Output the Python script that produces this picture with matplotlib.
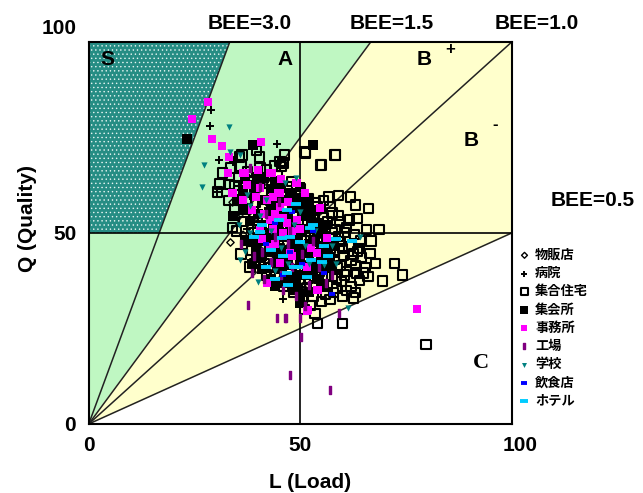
import matplotlib.pyplot as plt
import matplotlib.transforms as mtransforms
import numpy as np

plt.rcParams['font.family'] = ['Liberation Sans', 'Noto Sans CJK JP', 'DejaVu Sans']
plt.rcParams['hatch.linewidth'] = 0.5

# BEE boundary lines
bee_values = [3.0, 1.5, 1.0, 0.5]
bee_labels = ["BEE=3.0", "BEE=1.5", "BEE=1.0", "BEE=0.5"]

# building types (legend order)
type_names = ["物販店", "病院", "集合住宅", "集会所", "事務所", "工場", "学校", "飲食店", "ホテル"]

# (L, Q) points
retail = [(39.5, 52.5), (41.5, 46.5), (36.5, 49.5), (44.5, 55.5), (47.5, 43.5), (50.5, 36.0),
          (53.5, 46.0), (34.0, 58.0), (43.0, 63.0), (56.0, 50.0), (38.0, 55.5), (45.0, 37.5),
          (33.5, 47.5)]

hospital = [(28.8, 82.2), (28.6, 78.0), (44.4, 73.3), (30.7, 69.1), (34.0, 69.1), (45.9, 32.7),
            (30.3, 60.7), (34.0, 68.6), (36.0, 63.5), (38.5, 59.5), (41.0, 53.0), (46.0, 48.0),
            (50.0, 50.0), (44.5, 43.5), (52.0, 40.0), (37.5, 51.0), (48.0, 60.0)]

apartment = [(39.7, 71.5), (36.2, 70.4), (40.4, 69.9), (51.3, 70.9), (46.3, 70.4), (58.4, 70.4),
             (54.8, 67.8), (45.2, 68.6), (45.6, 67.3), (31.7, 65.7), (31.0, 62.8), (33.3, 62.6),
             (30.5, 60.7), (56.7, 59.4), (59.1, 59.9), (61.9, 59.4), (63.1, 57.3), (66.2, 56.3),
             (59.3, 52.9), (61.7, 53.4), (63.4, 53.7), (65.7, 51.0), (68.6, 51.0), (64.3, 47.9),
             (66.7, 47.9), (72.3, 42.1), (74.2, 39.0), (69.5, 37.4), (54.1, 26.2), (60.0, 26.4),
             (57.0, 32.5), (38.1, 41.1), (39.2, 41.9), (79.7, 20.9), (35.7, 69.9), (51.1, 71.2),
             (45.9, 68.3), (55.1, 67.8), (58.2, 70.4),
             (55.5, 54.0), (57.5, 55.2), (59.0, 54.5), (56.0, 51.5), (58.2, 50.8), (60.5, 50.2),
             (62.8, 49.6), (57.0, 48.5), (59.5, 47.8), (61.5, 46.5), (63.5, 45.2), (58.0, 45.0),
             (60.2, 44.0), (62.0, 42.8), (64.5, 43.5), (66.5, 44.6), (56.5, 42.5), (58.8, 41.0),
             (61.0, 40.0), (63.2, 39.5), (65.5, 41.0), (67.8, 42.0), (57.5, 38.5), (59.8, 37.2),
             (62.0, 36.0), (64.0, 37.5), (66.0, 38.5), (55.5, 36.0), (57.8, 34.5), (60.0, 33.5),
             (62.5, 33.0), (54.5, 40.0), (55.0, 46.5), (53.5, 50.0), (54.0, 57.0), (52.0, 59.0),
             (50.0, 61.5), (48.0, 63.5), (44.5, 65.0), (42.0, 66.5), (40.0, 64.0), (37.5, 66.0),
             (35.5, 64.5), (38.0, 61.0), (36.0, 58.5), (34.5, 56.0), (36.5, 53.0), (35.0, 50.5),
             (37.0, 48.0), (38.5, 45.5), (40.5, 43.5), (42.5, 41.0), (44.0, 38.5), (46.0, 36.0),
             (48.5, 34.5), (50.5, 33.0), (52.5, 31.0), (53.5, 29.0), (47.5, 38.0), (49.5, 40.5),
             (51.5, 42.5), (53.0, 44.5), (45.0, 43.0), (43.5, 46.0), (41.5, 48.5), (40.0, 51.0),
             (39.0, 54.0), (41.0, 56.5), (43.0, 58.5), (45.5, 60.0), (47.0, 57.0), (49.0, 55.0),
             (51.0, 53.0), (46.5, 51.5), (44.5, 54.0), (42.5, 52.0), (48.5, 48.5), (50.5, 46.5),
             (52.5, 48.0), (47.0, 45.0), (44.0, 50.0), (49.5, 51.0), (46.0, 47.5), (52.0, 38.0),
             (50.0, 37.0), (48.0, 42.0), (55.0, 32.0), (41.0, 60.5), (39.5, 58.0), (37.5, 56.5),
             (39.0, 50.0), (40.5, 47.0), (41.5, 42.0), (42.0, 39.0), (43.0, 55.0), (43.5, 49.0),
             (44.0, 61.0), (45.0, 46.0), (45.5, 41.0), (46.0, 56.5), (46.5, 53.5), (47.0, 49.5),
             (47.5, 40.5), (48.0, 37.0), (48.5, 58.5), (49.0, 45.0), (49.5, 53.0), (50.0, 39.5),
             (50.5, 55.5), (51.0, 48.0), (51.5, 35.5), (52.0, 50.5), (52.5, 41.5), (53.0, 53.5),
             (53.5, 38.5), (54.0, 43.0), (54.5, 48.5), (55.0, 51.0), (55.5, 44.5), (56.0, 39.0),
             (56.5, 53.0), (57.0, 46.0), (57.5, 50.0), (58.0, 43.0), (58.5, 38.0), (59.0, 49.0),
             (60.0, 46.0), (61.0, 51.5), (59.5, 41.5), (60.5, 39.0), (63.0, 41.5), (64.0, 46.0),
             (62.5, 44.5), (65.0, 39.5), (61.0, 35.0), (63.0, 34.5), (58.5, 35.5), (56.0, 34.0),
             (53.0, 33.5), (51.0, 30.0), (36.0, 44.5), (34.0, 51.5), (33.0, 58.5), (35.5, 61.0),
             (38.0, 63.5), (42.5, 63.0), (47.0, 62.0), (50.5, 59.0), (53.5, 58.0), (55.5, 58.5),
             (57.0, 57.0), (44.0, 67.5), (40.5, 67.0), (36.0, 67.5), (33.5, 67.0), (34.5, 62.5)]

hall = [(23.2, 74.6), (38.8, 73.0), (53.0, 73.0), (49.9, 31.7), (39.7, 64.7), (51.5, 58.6),
        (42.5, 55.5), (44.5, 57.5), (46.5, 55.0), (48.5, 57.0), (43.5, 52.5), (45.5, 50.0),
        (47.5, 52.5), (49.5, 49.5), (51.5, 51.0), (42.0, 48.0), (44.0, 45.5), (46.0, 43.0),
        (48.0, 45.5), (50.0, 43.0), (52.0, 45.0), (53.5, 47.5), (45.0, 40.5), (47.0, 38.5),
        (49.0, 36.5), (51.0, 39.0), (53.0, 41.5), (55.0, 44.0), (41.0, 51.5), (39.5, 47.0),
        (52.5, 55.0), (54.0, 52.5), (50.5, 58.5), (47.5, 60.5), (43.0, 61.5), (39.0, 62.5),
        (56.0, 48.0), (57.0, 43.5), (54.5, 38.0), (50.0, 34.0), (44.0, 36.0), (38.5, 42.0),
        (41.0, 44.0), (36.5, 61.0), (34.0, 54.5),
        (44.0, 47.5), (46.0, 45.5), (48.0, 47.5), (50.0, 45.5), (52.0, 47.0), (45.0, 52.0),
        (47.0, 54.5), (49.0, 52.0), (51.0, 54.5), (43.0, 50.0), (42.5, 45.0), (44.5, 42.5),
        (47.0, 41.5), (49.0, 39.0), (51.5, 41.0), (53.0, 39.5), (55.5, 41.0), (56.5, 45.5),
        (54.5, 50.0), (52.5, 52.5), (48.5, 59.0), (45.5, 62.0), (41.0, 58.5), (40.0, 55.0),
        (38.0, 53.0), (37.5, 48.0), (39.5, 44.5), (41.0, 40.5), (43.0, 38.0), (46.0, 37.0),
        (48.5, 35.0), (52.0, 34.5), (55.0, 36.0), (57.5, 41.0), (58.0, 46.5), (56.0, 52.0),
        (53.5, 56.0), (50.0, 56.5), (46.0, 58.5), (43.5, 57.0), (39.0, 60.0), (36.5, 56.0),
        (35.0, 59.0), (37.0, 64.0), (41.5, 64.5), (44.0, 63.5), (50.0, 62.0), (52.0, 57.0),
        (46.5, 50.0), (50.5, 50.5)]

office = [(28.1, 84.3), (24.4, 79.8), (29.1, 74.6), (31.4, 72.8), (40.7, 73.8), (33.1, 69.9),
          (32.9, 65.7), (36.4, 65.7), (34.0, 60.5), (42.1, 36.9), (54.1, 35.1), (51.5, 29.6),
          (77.5, 30.1), (48.9, 63.1), (43.3, 65.7), (36.4, 58.6), (40.4, 61.8), (44.7, 60.5),
          (49.2, 63.1), (42.8, 65.7), (45.2, 60.5), (42.1, 58.6), (45.2, 56.8), (54.6, 56.5),
          (42.8, 53.4), (46.8, 52.6), (49.2, 53.4), (40.4, 50.8), (45.9, 50.0), (56.3, 48.7),
          (42.8, 46.3), (47.5, 44.8), (53.9, 44.8), (45.2, 42.1), (51.5, 41.1), (53.9, 35.1),
          (51.8, 29.8), (33.8, 60.5), (36.9, 65.7), (44.0, 55.0), (48.0, 50.5), (38.5, 56.0),
          (41.5, 55.0), (43.5, 51.0), (46.0, 54.0), (48.0, 44.0), (44.0, 47.0), (41.0, 48.5),
          (50.0, 51.0), (52.5, 46.0), (47.0, 58.0), (43.5, 59.5), (39.5, 59.5), (37.5, 62.5),
          (45.5, 64.0), (40.0, 66.5), (51.0, 60.5)]

factory = [(38.5, 39.5), (37.6, 31.2), (44.4, 27.7), (46.6, 27.7), (49.9, 27.7), (50.1, 22.8),
           (46.3, 27.7), (59.1, 29.1), (47.5, 12.8), (57.0, 8.9), (41.0, 45.0), (43.0, 42.5),
           (45.5, 39.0), (48.0, 41.0), (50.5, 44.5), (47.0, 47.0), (44.0, 49.0), (52.0, 36.5),
           (54.5, 41.0), (49.0, 33.5), (51.0, 31.0), (46.0, 35.0), (41.5, 38.0), (39.0, 44.0),
           (42.0, 55.0), (45.0, 58.0), (40.5, 62.0), (36.0, 47.0), (56.0, 37.0), (53.0, 48.0),
           (38.0, 67.0), (47.5, 50.5), (57.5, 39.0)]

school = [(33.1, 77.7), (27.2, 67.8), (33.3, 71.2), (26.7, 62.0), (35.7, 42.9), (40.0, 37.2),
          (61.2, 30.4), (35.7, 70.4), (40.5, 54.5), (43.0, 50.5), (38.0, 50.0), (45.5, 46.0),
          (48.5, 52.0), (42.0, 58.5), (47.0, 42.0), (51.0, 46.5), (53.5, 50.5), (55.5, 41.5),
          (38.0, 57.0), (35.5, 52.0), (46.5, 63.0), (48.9, 64.5), (44.0, 40.0), (52.0, 42.0),
          (57.5, 46.5), (37.0, 45.0), (58.5, 42.0), (50.0, 55.5), (37.5, 60.0), (64.0, 49.0)]

restaurant = [(47.5, 45.0), (44.0, 52.5), (50.5, 42.0), (55.5, 39.5), (42.0, 47.0), (53.0, 50.5),
              (48.0, 55.5), (46.0, 39.0), (57.4, 34.0)]

hotel = [(45.0, 53.5), (47.5, 49.0), (43.0, 45.5), (50.0, 47.5), (52.5, 43.0), (41.0, 52.0),
         (55.5, 46.5), (48.5, 41.0), (46.0, 44.0), (39.0, 49.0), (44.0, 38.0), (53.0, 52.0),
         (62.2, 47.9), (49.0, 57.5), (56.5, 44.0), (42.0, 41.0), (51.5, 38.5), (47.0, 36.5),
         (58.5, 48.5), (40.4, 50.3), (46.8, 56.0), (52.2, 51.3), (45.6, 48.7), (55.1, 42.4),
         (49.4, 41.1), (46.8, 39.5)]

fig = plt.figure(figsize=(6.43, 4.93), dpi=100)
ax = fig.add_axes([0.138, 0.140, 0.658, 0.775])
ax.set_xlim(0, 100)
ax.set_ylim(0, 100)

# rank regions
l3 = 100 / bee_values[0]
l15 = 100 / bee_values[1]
ax.fill([0, l15, 0], [0, 100, 100], color='#bff7c2', zorder=0)
ax.fill([0, l15, 100, 100], [0, 100, 100, 100 * bee_values[3]], color='#ffffcc', zorder=0)
ax.fill([0, 50 / bee_values[0], l3, 0], [50, 50, 100, 100], facecolor='#268d84',
        edgecolor='#e6f5f2', hatch='....', linewidth=0, zorder=0)

for b in bee_values:
    x_end = min(100, 100 / b)
    ax.plot([0, x_end], [0, x_end * b], color='#222222', lw=1.1, zorder=1)
ax.axvline(50, color='black', lw=1.2, zorder=1)
ax.axhline(50, color='black', lw=1.2, zorder=1)

def xy(points):
    arr = np.array(points)
    return arr[:, 0], arr[:, 1]

styles = [
    (retail, dict(marker='D', s=14, facecolors='none', edgecolors='black', linewidths=1.0)),
    (hospital, dict(marker='+', s=34, c='black', linewidths=1.4)),
    (apartment, dict(marker='s', s=44, facecolors='none', edgecolors='black', linewidths=1.5)),
    (hall, dict(marker='s', s=42, c='black', linewidths=0)),
    (office, dict(marker='s', s=38, c='#ff00ff', linewidths=0)),
    (factory, dict(marker='$\\mathbf{I}$', s=34, c='#800080', linewidths=1.0)),
    (school, dict(marker='v', s=20, c='#008080', linewidths=0)),
    (restaurant, dict(marker='_', s=24, c='#0000ff', linewidths=2.8)),
    (hotel, dict(marker='_', s=50, c='#00ccff', linewidths=2.8)),
]
for (pts, kw), name in zip(styles, type_names):
    x, y = xy(pts)
    ax.scatter(x, y, label=name, zorder=2, **kw)

# rank letters
ax.text(4.3, 95.5, "S", fontsize=15, fontweight='bold', ha='center', va='center')
ax.text(46.5, 95.5, "A", fontsize=15, fontweight='bold', ha='center', va='center')
ax.text(79.4, 95.5, "B", fontsize=15, fontweight='bold', ha='center', va='center')
ax.text(85.5, 98.0, "+", fontsize=12, fontweight='bold', ha='center', va='center')
ax.text(90.5, 74.3, "B", fontsize=15, fontweight='bold', ha='center', va='center')
ax.text(96.0, 78.5, "-", fontsize=12, fontweight='bold', ha='center', va='center')
ax.text(92.7, 16.0, "C", fontsize=16, fontweight='bold', ha='center', va='center',
        family='Liberation Serif')

# BEE line labels
label_pos = [(38.0, 104.7), (71.6, 104.7), (106.0, 104.7), (119.0, 58.6)]
for txt, (lx, ly) in zip(bee_labels, label_pos):
    ax.text(lx, ly, txt, fontsize=15, fontweight='bold', ha='center', va='center',
            clip_on=False)

ax.set_xticks([0, 50, 100])
ax.set_yticks([0, 50, 100])
ax.tick_params(length=0, labelsize=15, pad=9)
for lab in ax.get_xticklabels() + ax.get_yticklabels():
    lab.set_fontweight('bold')
ax.get_yticklabels()[2].set_transform(ax.get_yticklabels()[2].get_transform()
                                      + mtransforms.ScaledTranslation(0, 0.15, fig.dpi_scale_trans))
ax.get_xticklabels()[2].set_transform(ax.get_xticklabels()[2].get_transform()
                                      + mtransforms.ScaledTranslation(0.08, 0, fig.dpi_scale_trans))

ax.set_xlabel("L (Load)", fontsize=15, fontweight='bold')
ax.set_ylabel("Q (Quality)", fontsize=15, fontweight='bold')
ax.xaxis.set_label_coords(0.522, -0.128)
ax.yaxis.set_label_coords(-0.123, 0.539)

for sp in ax.spines.values():
    sp.set_linewidth(1.5)

leg = ax.legend(loc='upper left', bbox_to_anchor=(1.005, 0.475), frameon=False,
                prop={'family': ['Noto Sans CJK JP', 'DejaVu Sans'], 'weight': 'bold', 'size': 9.5},
                handlelength=0.8, handletextpad=0.4, labelspacing=0.32, borderaxespad=0,
                markerscale=0.8)

fig.savefig("out.png", dpi=100)
